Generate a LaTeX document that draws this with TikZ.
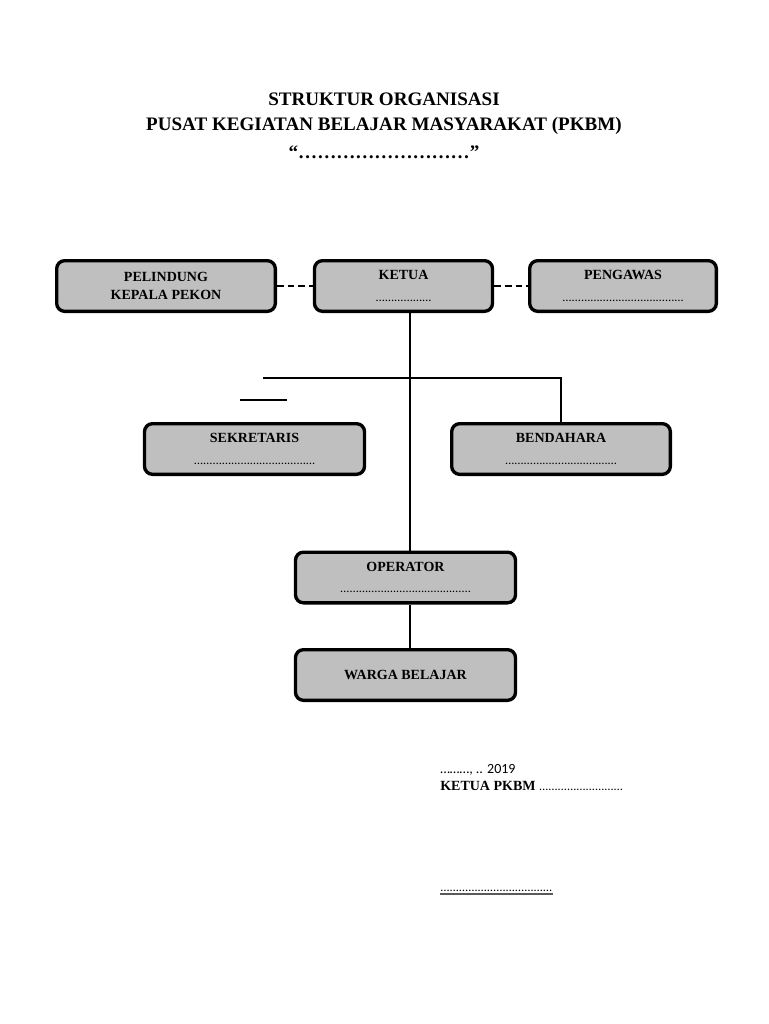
\documentclass[tikz,border=0pt]{standalone}
\usepackage{fontspec}
\setmainfont{Liberation Serif}
\newfontfamily\datefont{Carlito}
\definecolor{boxgray}{HTML}{BFBFBF}
\definecolor{signgray}{HTML}{5A5A5A}
\newcommand{\titik}[1]{{\fontsize{7}{8}\selectfont\foreach\k in {1,...,#1}{…}}}
\begin{document}
\begin{tikzpicture}[x=0.75pt, y=-0.75pt,
	unit/.style={draw=black, fill=boxgray, line width=2.5pt, rounded corners=6pt, align=center, inner sep=0pt, minimum height=38pt, font=\bfseries\fontsize{10.5}{12}\selectfont},
	judul/.style={font=\bfseries\fontsize{14.3}{16}\selectfont},
	link/.style={line width=1.6pt},
	dashlink/.style={line width=1.6pt, dash pattern=on 5pt off 3pt}
]
	\useasboundingbox (0,0) rectangle (768,1024);
	% judul
	\node[judul] (judul1) at (384,99) {STRUKTUR ORGANISASI};
	\node[judul] (judul2) at (384,126) {PUSAT KEGIATAN BELAJAR MASYARAKAT (PKBM)};
	\node[judul] (judul3) at (384,152) {“………………………”};
	% baris atas
	\node[unit, minimum width=164pt] (pelindung) at (166,286) {PELINDUNG\\[1pt]KEPALA PEKON};
	\node[unit, minimum width=133.5pt] (ketua) at (403.5,286) {KETUA\\[4pt]\titik{6}};
	\node[unit, minimum width=140pt] (pengawas) at (623,286) {PENGAWAS\\[4pt]\titik{13}};
	\draw[dashlink] (pelindung) -- (ketua);
	\draw[dashlink] (ketua) -- (pengawas);
	% baris tengah
	\node[unit, minimum width=165pt] (sekretaris) at (254.5,449) {SEKRETARIS\\[4pt]\titik{13}};
	\node[unit, minimum width=164pt] (bendahara) at (561,449) {BENDAHARA\\[4pt]\titik{12}};
	\node[unit, minimum width=165pt] (operator) at (405.5,577.5) {OPERATOR\\[4pt]\titik{14}};
	\node[unit, minimum width=165pt] (warga) at (405.5,675) {WARGA BELAJAR};
	% garis
	\coordinate (spine) at (410,0);
	\coordinate (cabang) at (263,378);
	\coordinate (potongkiri) at (240,400);
	\coordinate (potongkanan) at (287,400);
	\draw[link] (ketua.south -| spine) -- (operator.north -| spine);
	\draw[link] (operator.south -| spine) -- (warga.north -| spine);
	\draw[link] (cabang) -| (bendahara.north);
	\draw[link] (potongkiri) -- (potongkanan);
	% tanda tangan
	\node[anchor=base west, inner sep=0pt, font=\datefont\fontsize{10.5}{12}\selectfont] (tanggal) at (440,773) {………, .. 2019};
	\node[anchor=base west, inner sep=0pt, font=\bfseries\fontsize{10.5}{12}\selectfont] (ketuapkbm) at (440,790) {KETUA PKBM \titik{9}};
	\node[anchor=base west, inner sep=0pt, font=\bfseries\fontsize{10}{12}\selectfont] (ttd) at (440,891) {\titik{12}};
	\draw[line width=1.5pt, signgray] ([yshift=-2pt]ttd.base west) -- ([yshift=-2pt]ttd.base east);
\end{tikzpicture}
\end{document}
